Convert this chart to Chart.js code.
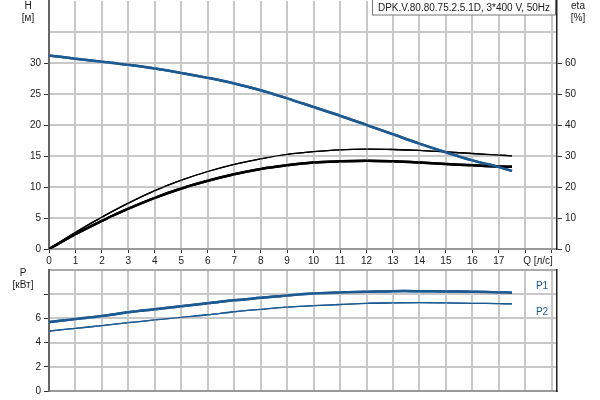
<!DOCTYPE html>
<html>
<head>
<meta charset="utf-8">
<script src="https://cdn.jsdelivr.net/npm/chart.js@4/dist/chart.umd.min.js"></script>
<style>
html,body{margin:0;padding:0;background:#fff;width:600px;height:400px;overflow:hidden}
#c1{position:absolute;left:0;top:0}
#c2{position:absolute;left:0;top:266px}
</style>
</head>
<body>
<canvas id="c1" width="600" height="266"></canvas>
<canvas id="c2" width="600" height="134"></canvas>
<script>
// ---- data ----
const flowQ = [0,1,2,3,4,5,6,7,8,9,10,11,12,13,14,15,16,17,17.5];
const headH = [31.2,30.7,30.2,29.7,29.1,28.4,27.6,26.7,25.6,24.3,22.9,21.5,20.0,18.5,17.0,15.6,14.3,13.2,12.6];
const etaUpper = [0,5.4,10.3,14.8,18.8,22.2,25.0,27.3,29.1,30.5,31.4,32.0,32.2,32.1,31.8,31.3,30.8,30.3,30.0];
const etaLower = [0,4.8,9.1,13.0,16.5,19.5,22.0,24.1,25.8,27.0,27.9,28.3,28.5,28.3,27.9,27.4,27.0,26.6,26.5];
const powerP1 = [5.7,5.95,6.2,6.5,6.75,7.0,7.25,7.5,7.7,7.9,8.05,8.15,8.2,8.25,8.25,8.23,8.2,8.15,8.12];
const powerP2 = [4.95,5.18,5.4,5.65,5.87,6.09,6.3,6.55,6.75,6.94,7.05,7.15,7.25,7.28,7.3,7.28,7.25,7.22,7.2];
const qTicks = [0,1,2,3,4,5,6,7,8,9,10,11,12,13,14,15,16,17,18,19];
const hTicks = [0,5,10,15,20,25,30,35,40];
const etaTicks = [0,10,20,30,40,50,60];
const pTicks = [0,2,4,6,8,10];
const titleText = 'DPK.V.80.80.75.2.5.1D, 3*400 V, 50Hz';

const pts = (ys) => flowQ.map((q,i)=>({x:q,y:ys[i]}));
const FONT = {family:'"Liberation Sans", Arial, sans-serif', size:10};
const TXT = '#1a1a1a';
const BLUE = '#1d5a92';
const GRID = '#c8c8c8';

const setTicks = (arr) => (scale) => { scale.ticks = arr.map(v=>({value:v})); };
const fitY = (w) => (s) => { s.width = w; s.paddingTop = 0; s.paddingBottom = 0; };
const fitX = (h) => (s) => { s.height = h; s.paddingLeft = 0; s.paddingRight = 0; };

// grid lines positioned by the chart's own scales; curves are re-rendered by
// their controllers on top so the grid stays underneath them
const gridPlugin = {
  id:'qgrid',
  afterDraw(chart, args, opts){
    const c = chart.ctx, a = chart.chartArea;
    const sx = chart.scales.x, sy = chart.scales.y;
    c.save();
    c.lineWidth = 2;
    opts.xTicks.forEach(v => {
      const px = Math.round(sx.getPixelForValue(v));
      c.strokeStyle = GRID;
      c.beginPath(); c.moveTo(px, a.top); c.lineTo(px, a.bottom - 1); c.stroke();
    });
    opts.yTicks.forEach(v => {
      const py = Math.round(sy.getPixelForValue(v));
      c.strokeStyle = (v === opts.topValue) ? opts.topColor : GRID;
      c.beginPath(); c.moveTo(a.left + 1, py); c.lineTo(a.right - 1, py); c.stroke();
    });
    c.restore();
    c.save();
    c.beginPath();
    c.rect(a.left + 1, a.top - 3, a.right - a.left - 2, a.bottom - a.top + 2);
    c.clip();
    const metas = chart.getSortedVisibleDatasetMetas();
    for (let i = metas.length - 1; i >= 0; --i) metas[i].controller.draw();
    c.restore();
  }
};

const labelsPlugin1 = {
  id:'labels1',
  afterDraw(chart){
    const c = chart.ctx;
    c.save();
    c.font = '10px "Liberation Sans", Arial, sans-serif';
    c.fillStyle = TXT;
    c.textAlign = 'center';
    c.textBaseline = 'middle';
    c.fillText('H', 28, 6);
    c.fillText('[м]', 28, 18);
    c.fillText('eta', 578, 6);
    c.fillText('[%]', 578, 18);
    c.fillText('Q [л/с]', 538, 261);
    c.fillStyle = '#fff';
    c.fillRect(372, -1, 184, 16);
    c.strokeStyle = '#777';
    c.lineWidth = 1;
    c.strokeRect(372.5, -0.5, 183, 15.5);
    c.fillStyle = TXT;
    c.fillText(titleText, 464, 8);
    c.restore();
  }
};

new Chart(document.getElementById('c1'), {
  type:'line',
  data:{datasets:[
    {label:'H', data:pts(headH), yAxisID:'y', borderColor:BLUE, borderWidth:2.5},
    {label:'eta1', data:pts(etaUpper), yAxisID:'y2', borderColor:'#000', borderWidth:1.3},
    {label:'eta2', data:pts(etaLower), yAxisID:'y2', borderColor:'#000', borderWidth:2.5}
  ]},
  options:{
    responsive:false, animation:false,
    layout:{padding:{top:1,left:0,right:0,bottom:0}},
    elements:{point:{radius:0}, line:{tension:0.35}},
    plugins:{legend:{display:false}, tooltip:{enabled:false},
      qgrid:{xTicks:qTicks.slice(1), yTicks:[5,10,15,20,25,30,35], topValue:null, topColor:GRID}},
    scales:{
      x:{type:'linear', min:0, max:19.2,
        afterBuildTicks:setTicks(qTicks),
        afterFit:fitX(17),
        ticks:{padding:2, maxRotation:0, autoSkip:false, font:FONT, color:TXT, callback:(v)=> v<=17 ? String(v) : ''},
        grid:{drawOnChartArea:false, color:'#333', tickColor:'#333', tickLength:4, lineWidth:1},
        border:{color:'#999', width:2}
      },
      y:{type:'linear', position:'left', min:0, max:40,
        afterBuildTicks:setTicks(hTicks),
        afterFit:fitY(49),
        ticks:{padding:3, font:FONT, color:TXT, callback:(v)=> v<=30 ? String(v) : ''},
        grid:{drawOnChartArea:false, lineWidth:1,
              tickColor:(ctx)=> ctx.tick && ctx.tick.value<=30 ? '#333' : 'rgba(0,0,0,0)', tickLength:5},
        border:{color:'#666', width:2}
      },
      y2:{type:'linear', position:'right', min:0, max:80,
        afterBuildTicks:setTicks(etaTicks),
        afterFit:fitY(43),
        ticks:{padding:3, font:FONT, color:TXT},
        grid:{drawOnChartArea:false, tickColor:'#333', tickLength:5, lineWidth:1},
        border:{color:'#222', width:1.5}
      }
    }
  },
  plugins:[gridPlugin, labelsPlugin1]
});

const labelsPlugin2 = {
  id:'labels2',
  afterDraw(chart){
    const c = chart.ctx;
    c.save();
    c.font = '10px "Liberation Sans", Arial, sans-serif';
    c.textAlign = 'center';
    c.textBaseline = 'middle';
    c.fillStyle = TXT;
    c.fillText('P', 23, 7);
    c.fillText('[кВт]', 23, 19);
    c.fillStyle = BLUE;
    c.fillText('P1', 542, 20);
    c.fillText('P2', 542, 46);
    c.restore();
  }
};

new Chart(document.getElementById('c2'), {
  type:'line',
  data:{datasets:[
    {label:'P1', data:pts(powerP1), borderColor:BLUE, borderWidth:2.5},
    {label:'P2', data:pts(powerP2), borderColor:BLUE, borderWidth:1.3}
  ]},
  options:{
    responsive:false, animation:false,
    layout:{padding:{top:4,left:0,right:0,bottom:0}},
    elements:{point:{radius:0}, line:{tension:0.35}},
    plugins:{legend:{display:false}, tooltip:{enabled:false},
      qgrid:{xTicks:qTicks.slice(1), yTicks:[2,4,6,8,10], topValue:10, topColor:'#aaaaaa'}},
    scales:{
      x:{type:'linear', min:0, max:19.2,
        afterBuildTicks:setTicks(qTicks),
        afterFit:fitX(9),
        ticks:{display:false},
        grid:{drawOnChartArea:false, drawTicks:false},
        border:{color:'#999', width:2}
      },
      y:{type:'linear', position:'left', min:0, max:10,
        afterBuildTicks:setTicks(pTicks),
        afterFit:fitY(49),
        ticks:{padding:3, font:FONT, color:TXT, callback:(v)=> v<=6 ? String(v) : ''},
        grid:{drawOnChartArea:false, lineWidth:1,
              tickColor:(ctx)=> ctx.tick && ctx.tick.value<=8 ? '#333' : 'rgba(0,0,0,0)', tickLength:5},
        border:{color:'#666', width:2}
      },
      yr:{type:'linear', position:'right', min:0, max:10,
        afterFit:fitY(43),
        ticks:{display:false},
        grid:{drawOnChartArea:false, drawTicks:false},
        border:{color:'#222', width:1.5}
      }
    }
  },
  plugins:[gridPlugin, labelsPlugin2]
});
</script>
</body>
</html>
